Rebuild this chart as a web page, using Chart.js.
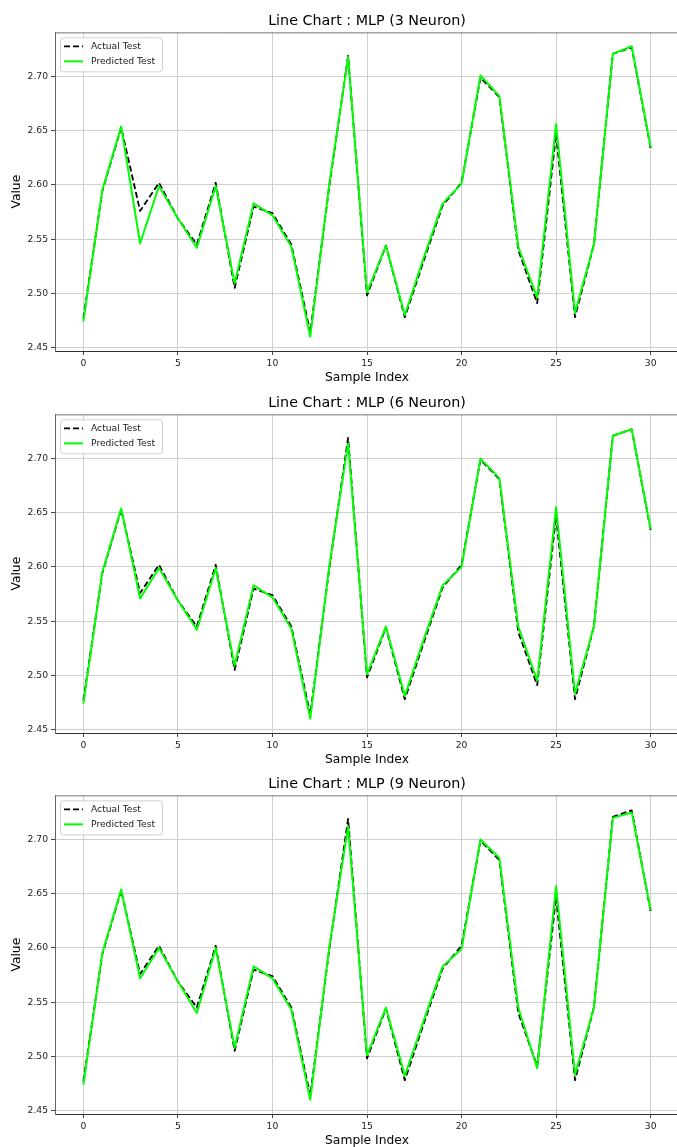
<!DOCTYPE html>
<html>
<head>
<meta charset="utf-8">
<script src="https://cdn.jsdelivr.net/npm/chart.js@4.4.1/dist/chart.umd.min.js"></script>
<style>
  html, body { margin: 0; padding: 0; background: #fff; overflow: hidden; }
  .panel { position: absolute; left: 0; width: 679px; height: 392px; }
</style>
</head>
<body>
<div class="panel" style="top:0px"><canvas id="c3" width="679" height="392"></canvas></div>
<div class="panel" style="top:382px"><canvas id="c6" width="679" height="392"></canvas></div>
<div class="panel" style="top:763px"><canvas id="c9" width="679" height="392"></canvas></div>
<script>
// values
const sampleIndex = [0, 1, 2, 3, 4, 5, 6, 7, 8, 9, 10, 11, 12, 13, 14, 15, 16, 17, 18, 19, 20, 21, 22, 23, 24, 25, 26, 27, 28, 29, 30];
const actualTest = [2.477, 2.594, 2.653, 2.576, 2.602, 2.569, 2.545, 2.602, 2.505, 2.580, 2.574, 2.545, 2.464, 2.598, 2.719, 2.498, 2.544, 2.478, 2.530, 2.581, 2.602, 2.699, 2.681, 2.540, 2.491, 2.647, 2.478, 2.545, 2.721, 2.727, 2.634];
const predicted3 = [2.474, 2.595, 2.654, 2.546, 2.599, 2.569, 2.542, 2.599, 2.509, 2.583, 2.572, 2.543, 2.460, 2.600, 2.718, 2.501, 2.544, 2.480, 2.533, 2.583, 2.601, 2.701, 2.682, 2.543, 2.496, 2.656, 2.482, 2.545, 2.721, 2.728, 2.635];
const predicted6 = [2.474, 2.595, 2.654, 2.571, 2.599, 2.569, 2.542, 2.599, 2.509, 2.583, 2.572, 2.543, 2.460, 2.600, 2.714, 2.501, 2.545, 2.481, 2.533, 2.583, 2.600, 2.700, 2.682, 2.545, 2.495, 2.655, 2.483, 2.545, 2.721, 2.727, 2.635];
const predicted9 = [2.474, 2.595, 2.654, 2.572, 2.600, 2.569, 2.540, 2.600, 2.508, 2.583, 2.572, 2.543, 2.460, 2.600, 2.712, 2.501, 2.545, 2.482, 2.533, 2.583, 2.599, 2.700, 2.683, 2.545, 2.489, 2.657, 2.483, 2.545, 2.720, 2.725, 2.635];
const xTicks = [0, 5, 10, 15, 20, 25, 30];
const yTicks = [2.45, 2.50, 2.55, 2.60, 2.65, 2.70];

const FONT = "DejaVu Sans";

// legend box inside the plot + top spine
const boxLegend = {
  id: 'boxLegend',
  beforeDatasetsDraw(chart) {
    const {ctx, chartArea: a} = chart;
    ctx.save();
    ctx.strokeStyle = '#777';
    ctx.lineWidth = 1;
    ctx.beginPath();
    ctx.moveTo(a.left, a.top + 0.5);
    ctx.lineTo(a.right, a.top + 0.5);
    ctx.stroke();
    ctx.restore();
  },
  afterDatasetsDraw(chart) {
    const {ctx, chartArea: a} = chart;
    const x = a.left + 5, y = a.top + 5, w = 102, h = 34;
    ctx.save();
    ctx.fillStyle = 'rgba(255,255,255,0.85)';
    ctx.strokeStyle = '#d0d0d0';
    ctx.lineWidth = 1;
    ctx.beginPath();
    ctx.roundRect(x + 0.5, y + 0.5, w, h, 3);
    ctx.fill();
    ctx.stroke();
    chart.data.datasets.forEach((ds, i) => {
      const ly = y + 9 + i * 15;
      ctx.strokeStyle = ds.borderColor;
      ctx.lineWidth = ds.borderWidth;
      ctx.setLineDash(ds.borderDash || []);
      ctx.beginPath();
      ctx.moveTo(x + 4, ly);
      ctx.lineTo(x + 23, ly);
      ctx.stroke();
      ctx.setLineDash([]);
      ctx.fillStyle = '#222';
      ctx.font = '9.2px "' + FONT + '"';
      ctx.textBaseline = 'middle';
      ctx.textAlign = 'left';
      ctx.fillText(ds.label, x + 31, ly);
    });
    ctx.restore();
  }
};

function makeChart(id, title, predicted) {
  const ctx = document.getElementById(id);
  new Chart(ctx, {
    type: 'line',
    data: {
      datasets: [{
        label: 'Actual Test',
        data: sampleIndex.map((x, i) => ({x: x, y: actualTest[i]})),
        borderColor: '#000000',
        borderWidth: 1.8,
        borderDash: [6, 3],
        borderJoinStyle: 'round',
        pointRadius: 0,
        tension: 0,
        fill: false,
        order: 2
      }, {
        label: 'Predicted Test',
        data: sampleIndex.map((x, i) => ({x: x, y: predicted[i]})),
        borderColor: '#00ff00',
        borderWidth: 2,
        borderJoinStyle: 'round',
        pointRadius: 0,
        tension: 0,
        fill: false,
        order: 1
      }]
    },
    options: {
      responsive: false,
      animation: false,
      layout: {padding: 0},
      plugins: {
        legend: {display: false},
        tooltip: {enabled: false},
        title: {
          display: true,
          text: title,
          color: '#000',
          fullSize: false,
          font: {family: FONT, size: 14.3, weight: 'normal', lineHeight: 1.2},
          padding: {top: 13, bottom: 2.2}
        }
      },
      scales: {
        x: {
          type: 'linear',
          min: -1.5,
          max: 31.5,
          afterBuildTicks: s => { s.ticks = xTicks.map(v => ({value: v})); },
          afterFit: s => { s.height = 41; },
          grid: {color: '#cfcfcf', lineWidth: 1, tickLength: 4, tickColor: '#444'},
          border: {display: true, color: '#333', width: 1},
          ticks: {
            color: '#222',
            padding: 3,
            maxRotation: 0,
            font: {family: FONT, size: 9.2},
            callback: v => String(v)
          },
          title: {
            display: true,
            text: 'Sample Index',
            color: '#000',
            font: {family: FONT, size: 12.3, lineHeight: 1.2},
            padding: {top: 0, bottom: 7}
          }
        },
        y: {
          type: 'linear',
          min: 2.4468,
          max: 2.7408,
          afterBuildTicks: s => { s.ticks = yTicks.map(v => ({value: v})); },
          afterFit: s => { s.width = 55; },
          grid: {color: '#cfcfcf', lineWidth: 1, tickLength: 4, tickColor: '#444'},
          border: {display: true, color: '#666', width: 1},
          ticks: {
            color: '#222',
            padding: 3,
            font: {family: FONT, size: 9.2},
            callback: v => Number(v).toFixed(2)
          },
          title: {
            display: true,
            text: 'Value',
            color: '#000',
            font: {family: FONT, size: 12.3, lineHeight: 1.2},
            padding: {top: 9, bottom: 0}
          }
        }
      }
    },
    plugins: [boxLegend]
  });
}

makeChart('c3', 'Line Chart : MLP (3 Neuron)', predicted3);
makeChart('c6', 'Line Chart : MLP (6 Neuron)', predicted6);
makeChart('c9', 'Line Chart : MLP (9 Neuron)', predicted9);
</script>
</body>
</html>
